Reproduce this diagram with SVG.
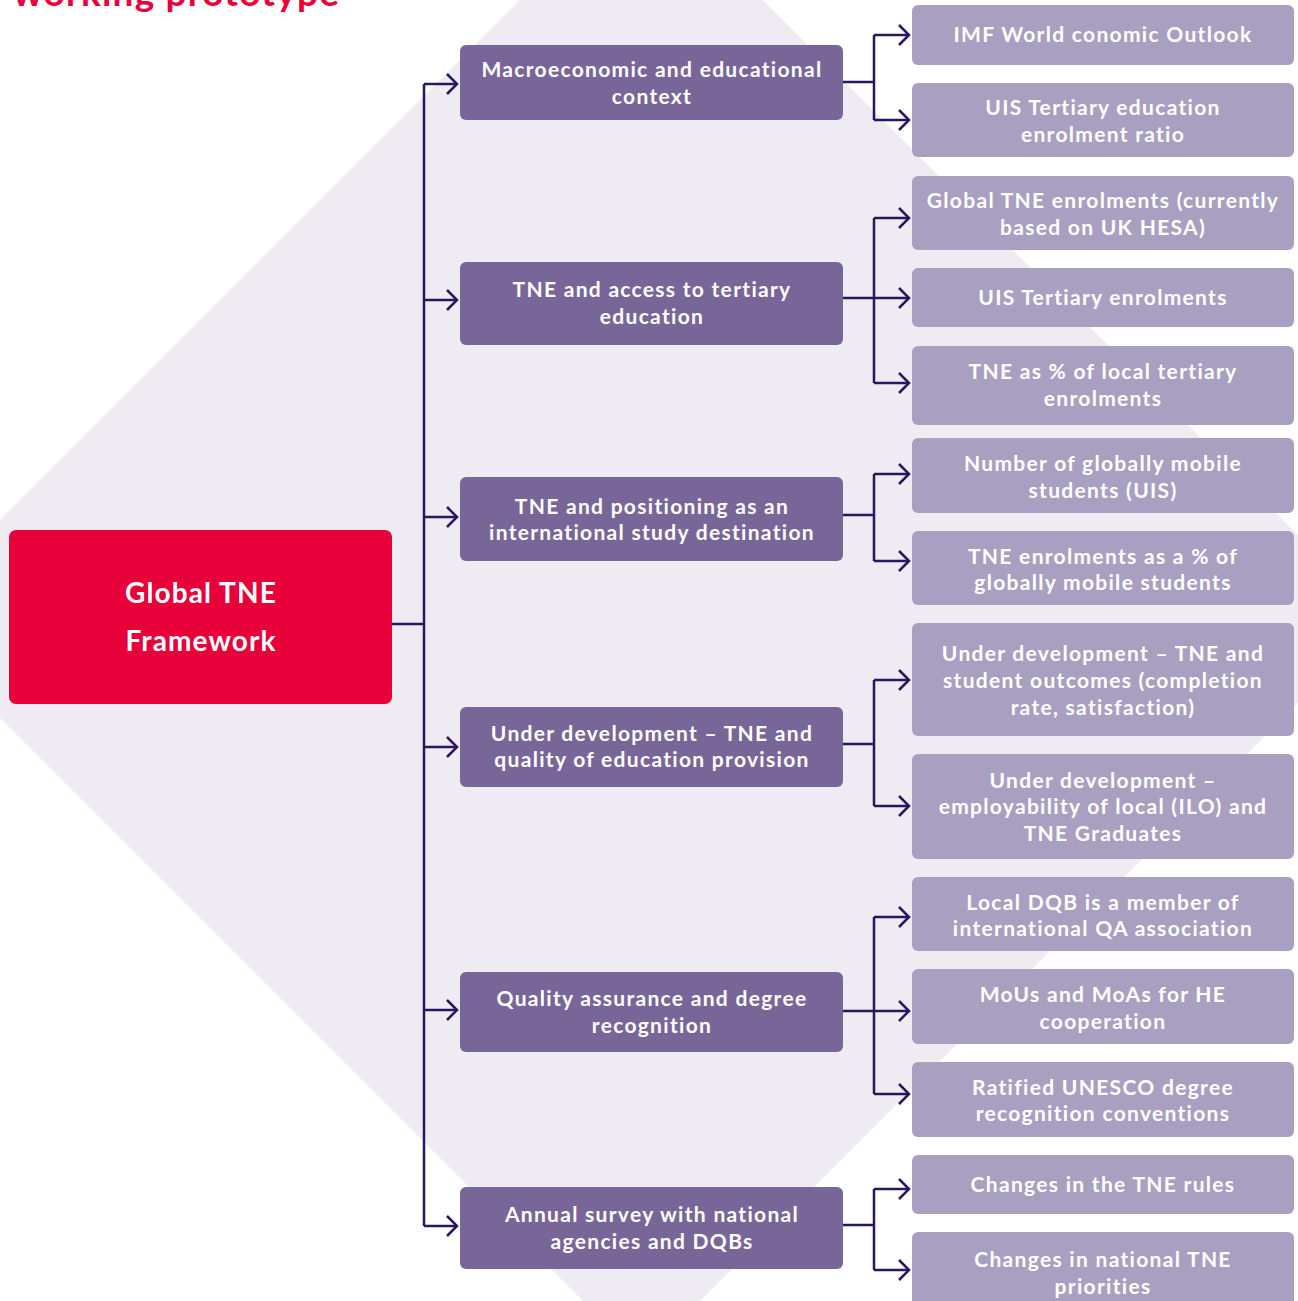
<svg xmlns="http://www.w3.org/2000/svg" width="1298" height="1301" viewBox="0 0 1298 1301">
<style>
.t{font-family:Lato,"Noto Sans","Liberation Sans",sans-serif;font-weight:700;fill:#fff;text-anchor:middle;font-size:21px;letter-spacing:1.3px}
.big{font-size:28px;letter-spacing:1.1px}
.mid{fill:#786699}
.leaf{fill:#A99FC0}
.root{fill:#E8003A}
.c{fill:none;stroke:#2A1660;stroke-width:2.5}
.a{marker-end:url(#arr)}
</style>
<defs>
<marker id="arr" viewBox="-14 -12 16 24" refX="0" refY="0" markerWidth="16" markerHeight="24" markerUnits="userSpaceOnUse" orient="auto">
<path d="M-10,-10 L0,0 L-10,10" fill="none" stroke="#2A1660" stroke-width="2.5"/>
</marker>
</defs>
<rect width="1298" height="1301" fill="#fff"/>
<polygon points="641.5,-121.5 1382,619 641.5,1359.5 -99,619" fill="#EEEBF3"/>
<text x="13" y="6" font-family="Lato,'Liberation Sans',sans-serif" font-weight="700" font-size="37" letter-spacing="1.2" fill="#E8003A">working prototype</text>

<g id="connectors">
<path class="c" d="M392,624 H424 M424,84 V1226"/>
<path class="c a" d="M424,84 H457"/>
<path class="c a" d="M424,300 H457"/>
<path class="c a" d="M424,517 H457"/>
<path class="c a" d="M424,747 H457"/>
<path class="c a" d="M424,1010 H457"/>
<path class="c a" d="M424,1226 H457"/>

<path class="c" d="M843,82 H874 M874,35 V120"/>
<path class="c a" d="M874,35 H909"/>
<path class="c a" d="M874,120 H909"/>

<path class="c" d="M843,298 H874 M874,218 V383"/>
<path class="c a" d="M874,218 H909"/>
<path class="c a" d="M874,298 H909"/>
<path class="c a" d="M874,383 H909"/>

<path class="c" d="M843,515 H874 M874,474 V561"/>
<path class="c a" d="M874,474 H909"/>
<path class="c a" d="M874,561 H909"/>

<path class="c" d="M843,744 H874 M874,680 V806"/>
<path class="c a" d="M874,680 H909"/>
<path class="c a" d="M874,806 H909"/>

<path class="c" d="M843,1011 H874 M874,917 V1094"/>
<path class="c a" d="M874,917 H909"/>
<path class="c a" d="M874,1011 H909"/>
<path class="c a" d="M874,1094 H909"/>

<path class="c" d="M843,1225 H874 M874,1189 V1270"/>
<path class="c a" d="M874,1189 H909"/>
<path class="c a" d="M874,1270 H909"/>
</g>

<g id="root"><rect class="root" x="9" y="530" width="383" height="174" rx="7"/>
<text class="t big" x="201" y="603">Global TNE</text><text class="t big" x="201" y="651">Framework</text></g>

<g id="m1"><rect class="mid" x="460" y="45" width="383" height="75" rx="6"/>
<text class="t" x="652" y="77">Macroeconomic and educational</text><text class="t" x="652" y="104">context</text></g>
<g id="m2"><rect class="mid" x="460" y="262" width="383" height="83" rx="6"/>
<text class="t" x="652" y="297">TNE and access to tertiary</text><text class="t" x="652" y="324">education</text></g>
<g id="m3"><rect class="mid" x="460" y="477" width="383" height="84" rx="6"/>
<text class="t" x="652" y="514">TNE and positioning as an</text><text class="t" x="652" y="540">international study destination</text></g>
<g id="m4"><rect class="mid" x="460" y="707" width="383" height="80" rx="6"/>
<text class="t" x="652" y="741">Under development – TNE and</text><text class="t" x="652" y="767">quality of education provision</text></g>
<g id="m5"><rect class="mid" x="460" y="972" width="383" height="80" rx="6"/>
<text class="t" x="652" y="1006">Quality assurance and degree</text><text class="t" x="652" y="1033">recognition</text></g>
<g id="m6"><rect class="mid" x="460" y="1187" width="383" height="82" rx="6"/>
<text class="t" x="652" y="1222">Annual survey with national</text><text class="t" x="652" y="1249">agencies and DQBs</text></g>

<g id="r1"><rect class="leaf" x="912" y="5" width="382" height="60" rx="6"/>
<text class="t" x="1103" y="42">IMF World conomic Outlook</text></g>
<g id="r2"><rect class="leaf" x="912" y="83" width="382" height="74" rx="6"/>
<text class="t" x="1103" y="115">UIS Tertiary education</text><text class="t" x="1103" y="142">enrolment ratio</text></g>
<g id="r3"><rect class="leaf" x="912" y="176" width="382" height="74" rx="6"/>
<text class="t" x="1103" y="208">Global TNE enrolments (currently</text><text class="t" x="1103" y="235">based on UK HESA)</text></g>
<g id="r4"><rect class="leaf" x="912" y="268" width="382" height="59" rx="6"/>
<text class="t" x="1103" y="305">UIS Tertiary enrolments</text></g>
<g id="r5"><rect class="leaf" x="912" y="346" width="382" height="79" rx="6"/>
<text class="t" x="1103" y="379">TNE as % of local tertiary</text><text class="t" x="1103" y="406">enrolments</text></g>
<g id="r6"><rect class="leaf" x="912" y="438" width="382" height="75" rx="6"/>
<text class="t" x="1103" y="471">Number of globally mobile</text><text class="t" x="1103" y="498">students (UIS)</text></g>
<g id="r7"><rect class="leaf" x="912" y="531" width="382" height="74" rx="6"/>
<text class="t" x="1103" y="564">TNE enrolments as a % of</text><text class="t" x="1103" y="590">globally mobile students</text></g>
<g id="r8"><rect class="leaf" x="912" y="623" width="382" height="113" rx="6"/>
<text class="t" x="1103" y="661">Under development – TNE and</text><text class="t" x="1103" y="688">student outcomes (completion</text><text class="t" x="1103" y="715">rate, satisfaction)</text></g>
<g id="r9"><rect class="leaf" x="912" y="754" width="382" height="105" rx="6"/>
<text class="t" x="1103" y="788">Under development –</text><text class="t" x="1103" y="814">employability of local (ILO) and</text><text class="t" x="1103" y="841">TNE Graduates</text></g>
<g id="r10"><rect class="leaf" x="912" y="877" width="382" height="74" rx="6"/>
<text class="t" x="1103" y="910">Local DQB is a member of</text><text class="t" x="1103" y="936">international QA association</text></g>
<g id="r11"><rect class="leaf" x="912" y="969" width="382" height="75" rx="6"/>
<text class="t" x="1103" y="1002">MoUs and MoAs for HE</text><text class="t" x="1103" y="1029">cooperation</text></g>
<g id="r12"><rect class="leaf" x="912" y="1062" width="382" height="75" rx="6"/>
<text class="t" x="1103" y="1095">Ratified UNESCO degree</text><text class="t" x="1103" y="1121">recognition conventions</text></g>
<g id="r13"><rect class="leaf" x="912" y="1155" width="382" height="59" rx="6"/>
<text class="t" x="1103" y="1192">Changes in the TNE rules</text></g>
<g id="r14"><rect class="leaf" x="912" y="1232" width="382" height="90" rx="6"/>
<text class="t" x="1103" y="1267">Changes in national TNE</text><text class="t" x="1103" y="1294">priorities</text></g>
</svg>
